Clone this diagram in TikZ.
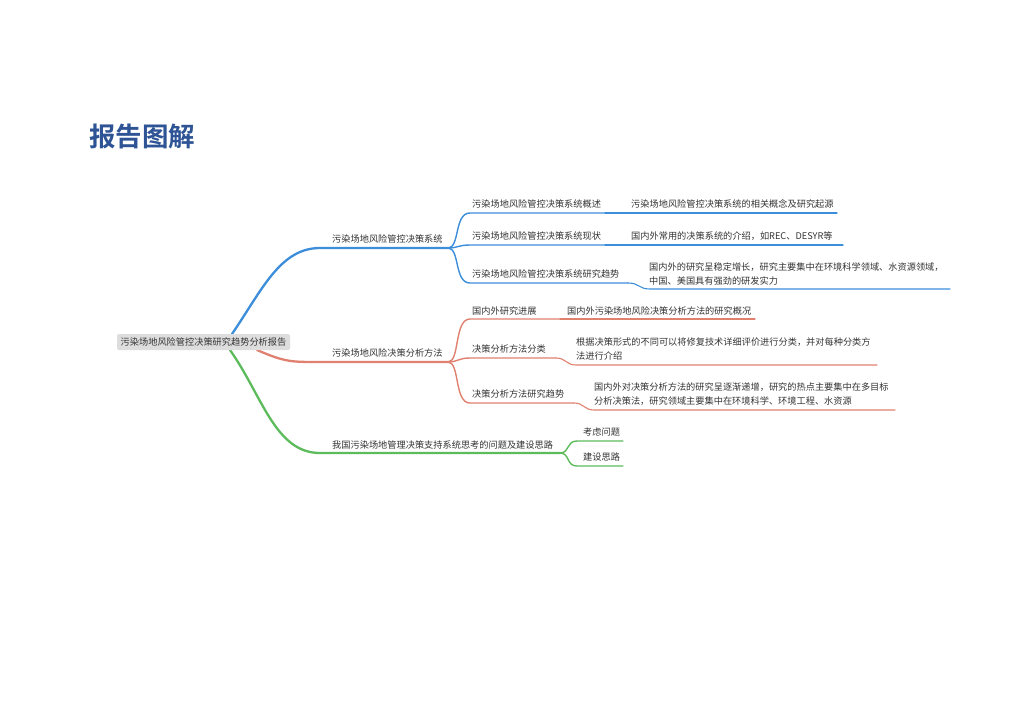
\documentclass[tikz,border=0pt]{standalone}
\usepackage{fontspec}
\newfontfamily\cjk{Noto Sans CJK SC}
\newfontfamily\cjkbold{Noto Sans CJK SC Bold}
\definecolor{cblue}{HTML}{3C8EDB}
\definecolor{cred}{HTML}{E0806E}
\definecolor{cgreen}{HTML}{5CBB5A}
\definecolor{ctext}{HTML}{333333}
\definecolor{ctitle}{HTML}{2E5496}
\definecolor{croot}{HTML}{DDDDDD}
\tikzset{
  lbl/.style={anchor=west,inner sep=0pt,text=ctext,font=\cjk\fontsize{9.2}{14}\selectfont,align=left},
  rootbox/.style={rounded corners=2pt,fill=croot,inner sep=0pt,minimum width=173pt,minimum height=16pt,text=ctext,font=\cjk\fontsize{9.2}{14}\selectfont},
  mainline/.style={line width=2.3pt,line cap=round},
  subline/.style={line width=1.4pt,line cap=round},
  leafline/.style={line width=1.1pt,line cap=round},
}
\begin{document}
\begin{tikzpicture}[x=1pt,y=-1pt]
\useasboundingbox (0,0) rectangle (1024,724);
% title
\node[anchor=west,inner sep=0pt,text=ctitle,font=\cjkbold\fontsize{26.5}{30}\selectfont] (title) at (89,136) {报告图解};
% ---------- coordinates
\coordinate (rb) at (232,334);
\coordinate (rr) at (257,350);
\coordinate (rg) at (230,350);
\coordinate (b0) at (320,248); \coordinate (b1) at (448,248);
\coordinate (r0) at (320,362); \coordinate (r1) at (448,362);
\coordinate (g0) at (320,453); \coordinate (g1) at (560,453);
% blue children
\coordinate (b11) at (470,213); \coordinate (b12) at (605,213); \coordinate (b13) at (837,213);
\coordinate (b21) at (470,245); \coordinate (b22) at (605,245); \coordinate (b23) at (843,245);
\coordinate (b31) at (470,283); \coordinate (b32) at (628,283); \coordinate (b33) at (650,289); \coordinate (b34) at (950,289);
% red children
\coordinate (r11) at (470,319); \coordinate (r12) at (560,319); \coordinate (r13) at (755,319);
\coordinate (r21) at (470,358); \coordinate (r22) at (556,358); \coordinate (r23) at (576,365); \coordinate (r24) at (877,365);
\coordinate (r31) at (470,403); \coordinate (r32) at (574,403); \coordinate (r33) at (594,410); \coordinate (r34) at (895,410);
% green children
\coordinate (g11) at (577,441); \coordinate (g12) at (623,441);
\coordinate (g21) at (577,466); \coordinate (g22) at (623,466);
% ---------- labels
\node[lbl] (B) at (332,239) {污染场地风险管控决策系统};
\node[lbl] (R) at (332,353) {污染场地风险决策分析方法};
\node[lbl] (G) at (332,445) {我国污染场地管理决策支持系统思考的问题及建设思路};
\node[lbl] (B1) at (472,204) {污染场地风险管控决策系统概述};
\node[lbl] (B1a) at (631,204) {污染场地风险管控决策系统的相关概念及研究起源};
\node[lbl] (B2) at (472,236) {污染场地风险管控决策系统现状};
\node[lbl] (B2a) at (631,236) {国内外常用的决策系统的介绍，如REC、DESYR等};
\node[lbl] (B3) at (472,274) {污染场地风险管控决策系统研究趋势};
\node[lbl] (B3a) at (649,274) {国内外的研究呈稳定增长，研究主要集中在环境科学领域、水资源领域，\\中国、美国具有强劲的研发实力};
\node[lbl] (R1) at (472,311) {国内外研究进展};
\node[lbl] (R1a) at (567,311) {国内外污染场地风险决策分析方法的研究概况};
\node[lbl] (R2) at (472,349) {决策分析方法分类};
\node[lbl] (R2a) at (576,349) {根据决策形式的不同可以将修复技术详细评价进行分类，并对每种分类方\\法进行介绍};
\node[lbl] (R3) at (472,394) {决策分析方法研究趋势};
\node[lbl] (R3a) at (594,394) {国内外对决策分析方法的研究呈逐渐递增，研究的热点主要集中在多目标\\分析决策法，研究领域主要集中在环境科学、环境工程、水资源};
\node[lbl] (G1) at (583,432) {考虑问题};
\node[lbl] (G2) at (583,457) {建设思路};
% ---------- main branches
\draw[mainline,cblue] (rb) .. controls (262,290) and (280,248) .. (b0) -- (b1);
\draw[mainline,cred] (rr) .. controls (285,362) and (290,362) .. (r0) -- (r1);
\draw[mainline,cgreen] (rg) .. controls (262,395) and (275,453) .. (g0) -- (g1);
% blue sub
\draw[subline,cblue] (b1) .. controls (460,248) and (454,213) .. (b11) -- (b12);
\draw[leafline,cblue] (b12) -- (b13);
\draw[subline,cblue] (b1) .. controls (458,248) and (458,245) .. (b21) -- (b22);
\draw[leafline,cblue] (b22) -- (b23);
\draw[subline,cblue] (b1) .. controls (460,248) and (454,283) .. (b31) -- (b32);
\draw[leafline,cblue] (b32) .. controls (640,283) and (638,289) .. (b33) -- (b34);
% red sub
\draw[subline,cred] (r1) .. controls (460,362) and (454,319) .. (r11) -- (r12);
\draw[leafline,cred] (r12) -- (r13);
\draw[subline,cred] (r1) .. controls (458,362) and (458,358) .. (r21) -- (r22);
\draw[leafline,cred] (r22) .. controls (566,358) and (566,365) .. (r23) -- (r24);
\draw[subline,cred] (r1) .. controls (460,362) and (454,403) .. (r31) -- (r32);
\draw[leafline,cred] (r32) .. controls (584,403) and (584,410) .. (r33) -- (r34);
% green sub
\draw[subline,cgreen] (g1) .. controls (570,453) and (566,441) .. (g11) -- (g12);
\draw[subline,cgreen] (g1) .. controls (570,453) and (566,466) .. (g21) -- (g22);
% root (drawn last, on top of branch starts)
\node[rootbox] (root) at (203.5,342) {污染场地风险管控决策研究趋势分析报告};
\end{tikzpicture}
\end{document}
